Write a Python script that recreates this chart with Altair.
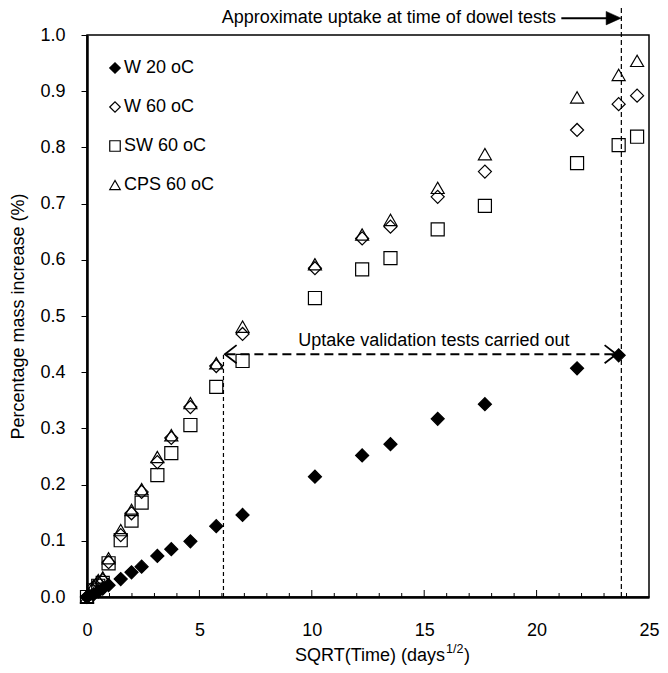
import altair as alt
import pandas as pd

FONT = "Liberation Sans"

series_names = ["W 20 oC", "W 60 oC", "SW 60 oC", "CPS 60 oC"]

x_times = [0, 0.3, 0.5, 0.7, 0.96, 1.5, 1.98, 2.43, 3.13, 3.75, 4.6, 5.75, 6.92,
           10.14, 12.24, 13.5, 15.6, 17.7, 21.8, 23.65, 24.47]

w20_y = [0, 0.005, 0.01, 0.015, 0.021, 0.032, 0.044, 0.054, 0.073, 0.085, 0.099,
         0.126, 0.146, 0.214, 0.252, 0.272, 0.317, 0.343, 0.407, 0.43]
w60_y = [0, 0.018, 0.025, 0.03, 0.062, 0.11, 0.149, 0.187, 0.24, 0.283, 0.338,
         0.411, 0.468, 0.585, 0.638, 0.659, 0.712, 0.757, 0.831, 0.877, 0.892]
sw60_y = [0, 0.012, 0.02, 0.025, 0.06, 0.101, 0.136, 0.168, 0.217, 0.256, 0.306,
          0.374, 0.42, 0.532, 0.583, 0.603, 0.654, 0.696, 0.772, 0.804, 0.819]
cps60_y = [0, 0.02, 0.03, 0.035, 0.069, 0.119, 0.155, 0.192, 0.249, 0.288, 0.345,
           0.416, 0.481, 0.592, 0.645, 0.671, 0.728, 0.788, 0.889, 0.929, 0.954]

x_labels = [0, 5, 10, 15, 20, 25]
y_labels = [0, 0.1, 0.2, 0.3, 0.4, 0.5, 0.6, 0.7, 0.8, 0.9, 1.0]
minor_ticks = [1, 2, 3, 4, 6, 7, 8, 9, 11, 12, 13, 14, 16, 17, 18, 19, 21, 22, 23, 24]
major_ticks = [5, 10, 15, 20]

# annotations (data coordinates)
val_line_x = [6.07]
val_line_top = [0.432]
dowel_line_x = [23.77]
dowel_line_top = [1.05]
arrow_y = [0.432]
arrow_x_start = [6.2]
arrow_x_end = [23.45]
arrow_left_tip = [6.13]
arrow_right_tip = [23.55]
val_text = ["Uptake validation tests carried out"]
val_text_x = [15.43]
val_text_y = [0.455]
top_text = ["Approximate uptake at time of dowel tests"]
top_text_x = [20.86]
top_y = [1.03]
top_arrow_start = [21.1]
top_arrow_end = [23.2]
top_arrow_tip = [23.76]

rows = []
for name, ys in zip(series_names, [w20_y, w60_y, sw60_y, cps60_y]):
    for xv, yv in zip(x_times, ys):
        rows.append({"x": xv, "y": yv, "series": name})
df = pd.DataFrame(rows)

legend = alt.Legend(title=None, orient="none", legendX=19, legendY=24,
                    labelFontSize=18, labelFont=FONT, labelColor="black",
                    symbolSize=110, symbolStrokeWidth=1.2,
                    rowPadding=21, labelOffset=0, padding=0)

points = alt.Chart(df).mark_point(filled=False, strokeWidth=1.2,
                                  size=170, opacity=1).encode(
    x=alt.X("x:Q", scale=alt.Scale(domain=[0, 25], nice=False),
            axis=alt.Axis(values=x_labels, title=None, ticks=False, labelPadding=24,
                          grid=False, domainWidth=2.5, domainColor="black",
                          labelFontSize=18, labelFont=FONT, labelColor="black",
                          labelFlush=False)),
    y=alt.Y("y:Q", scale=alt.Scale(domain=[0, 1], nice=False),
            axis=alt.Axis(values=y_labels, format=".1f",
                          title="Percentage mass increase (%)",
                          titleFont=FONT, titleFontSize=18, titleFontWeight="normal",
                          titleColor="black", titlePadding=12,
                          tickSize=6, tickColor="black", tickWidth=1,
                          labelPadding=16, grid=False, domainWidth=2.5,
                          domainColor="black", labelFontSize=18, labelFont=FONT,
                          labelColor="black", labelFlush=False)),
    shape=alt.Shape("series:N", sort=series_names,
                    scale=alt.Scale(domain=series_names,
                                    range=["diamond", "diamond", "square", "triangle-up"]),
                    legend=legend),
    fill=alt.Fill("series:N", sort=series_names,
                  scale=alt.Scale(domain=series_names,
                                  range=["black", "transparent", "transparent", "transparent"]),
                  legend=legend),
    stroke=alt.Stroke("series:N", sort=series_names,
                      scale=alt.Scale(domain=series_names,
                                      range=["black", "black", "black", "black"]),
                      legend=legend),
)

minor = alt.Chart(pd.DataFrame({"x": minor_ticks})).mark_rule(color="black", strokeWidth=1).encode(
    x="x:Q", y=alt.value(562), y2=alt.value(558))
major = alt.Chart(pd.DataFrame({"x": major_ticks})).mark_rule(color="black", strokeWidth=1).encode(
    x="x:Q", y=alt.value(562), y2=alt.value(555))

vline1 = alt.Chart(pd.DataFrame({"x": val_line_x, "y": [0], "y2": val_line_top})).mark_rule(
    color="black", strokeWidth=1.2, strokeDash=[4, 3]).encode(x="x:Q", y="y:Q", y2="y2:Q")
vline2 = alt.Chart(pd.DataFrame({"x": dowel_line_x, "y": [0], "y2": dowel_line_top})).mark_rule(
    color="black", strokeWidth=1.2, strokeDash=[5, 3]).encode(x="x:Q", y="y:Q", y2="y2:Q")

hline = alt.Chart(pd.DataFrame({"x": arrow_x_start, "x2": arrow_x_end, "y": arrow_y})).mark_rule(
    color="black", strokeWidth=2, strokeDash=[9, 5]).encode(x="x:Q", x2="x2:Q", y="y:Q")

left_head = alt.Chart(pd.DataFrame({"x": arrow_left_tip, "y": arrow_y})).mark_point(
    shape="M1.3,-1L0,0L1.3,1", filled=False, stroke="black", strokeWidth=1.8,
    size=330, opacity=1).encode(x="x:Q", y="y:Q")
right_head = alt.Chart(pd.DataFrame({"x": arrow_right_tip, "y": arrow_y})).mark_point(
    shape="M-1.3,-1L0,0L-1.3,1", filled=False, stroke="black", strokeWidth=1.8,
    size=330, opacity=1).encode(x="x:Q", y="y:Q")

val_label = alt.Chart(pd.DataFrame({"x": val_text_x, "y": val_text_y, "t": val_text})).mark_text(
    font=FONT, fontSize=18, color="black", align="center", baseline="middle").encode(
    x="x:Q", y="y:Q", text="t:N")

top_label = alt.Chart(pd.DataFrame({"x": top_text_x, "y": top_y, "t": top_text})).mark_text(
    font=FONT, fontSize=18, color="black", align="right", baseline="middle").encode(
    x="x:Q", y="y:Q", text="t:N")

top_line = alt.Chart(pd.DataFrame({"x": top_arrow_start, "x2": top_arrow_end, "y": top_y})).mark_rule(
    color="black", strokeWidth=2).encode(x="x:Q", x2="x2:Q", y="y:Q")
top_head = alt.Chart(pd.DataFrame({"x": top_arrow_tip, "y": top_y})).mark_point(
    shape="M-1,-0.45L0,0L-1,0.45Z", filled=True, fill="black", stroke="black",
    strokeWidth=0.5, size=900, opacity=1).encode(x="x:Q", y="y:Q")

# x-axis title with superscript
title_main = alt.Chart(pd.DataFrame({"t": ["SQRT(Time) (days"]})).mark_text(
    font=FONT, fontSize=18, color="black", align="right", baseline="middle").encode(
    x=alt.value(358), y=alt.value(621), text="t:N")
title_sup = alt.Chart(pd.DataFrame({"t": ["1/2"]})).mark_text(
    font=FONT, fontSize=12.5, color="black", align="left", baseline="middle").encode(
    x=alt.value(359), y=alt.value(614), text="t:N")
title_end = alt.Chart(pd.DataFrame({"t": [")"]})).mark_text(
    font=FONT, fontSize=18, color="black", align="left", baseline="middle").encode(
    x=alt.value(377), y=alt.value(621), text="t:N")

chart = alt.layer(
    vline1, vline2, hline, left_head, right_head, minor, major,
    points, val_label, top_label, top_line, top_head,
    title_main, title_sup, title_end,
).properties(
    width=562, height=562,
    padding={"left": 79, "top": 27, "right": 11, "bottom": 68},
    autosize=alt.AutoSizeParams(type="none"),
    background="white",
).configure_view(stroke="black", strokeWidth=1.5)

chart.save("out.html", embed_options={"renderer": "svg", "actions": False})
